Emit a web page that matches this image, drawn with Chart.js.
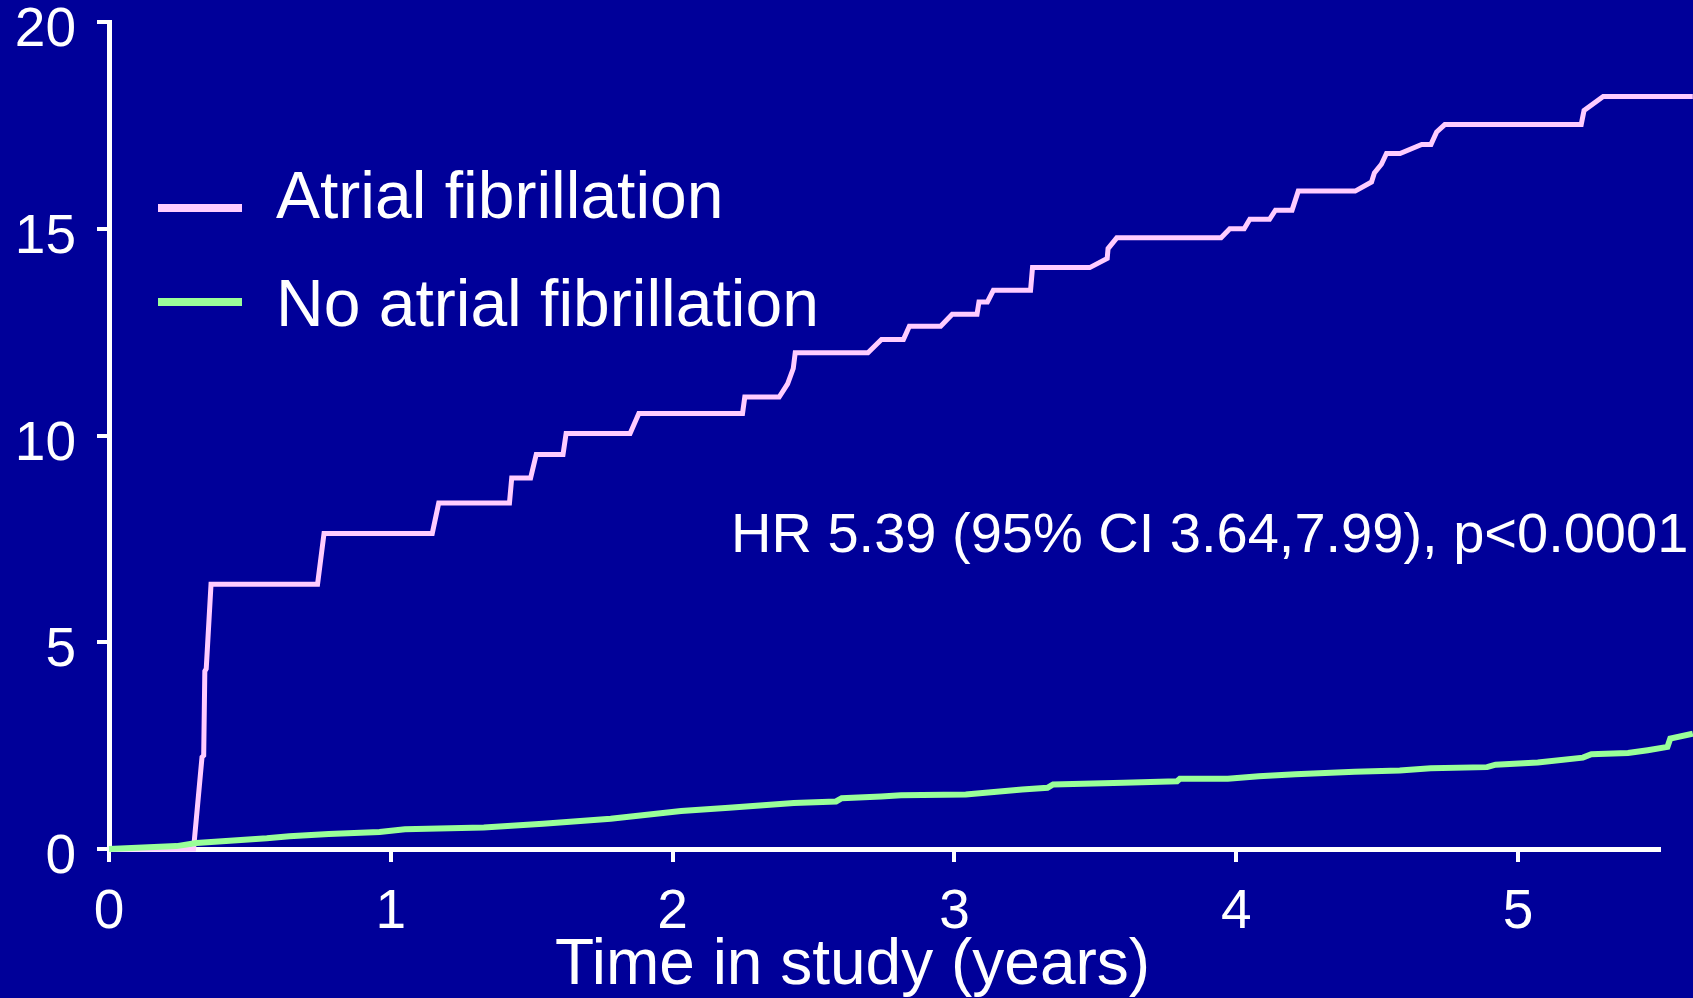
<!DOCTYPE html>
<html>
<head>
<meta charset="utf-8">
<script src="https://cdn.jsdelivr.net/npm/chart.js@4/dist/chart.umd.min.js"></script>
<style>
  html, body { margin: 0; padding: 0; background: #000099; }
  #wrap { width: 1693px; height: 998px; position: relative; }
  canvas { display: block; }
</style>
</head>
<body>
<div id="wrap"><canvas id="km" width="1693" height="998"></canvas></div>
<script>
// Cumulative incidence (%) by time in study (years), step vertices of each curve
const afTime = [0, 0.300, 0.330, 0.336, 0.340, 0.345, 0.362, 0.740, 0.763, 1.147, 1.170, 1.421, 1.429, 1.496, 1.516,
  1.611, 1.622, 1.849, 1.880, 2.248, 2.256, 2.378, 2.408, 2.428, 2.435, 2.693, 2.741, 2.819, 2.840, 2.951,
  2.992, 3.080, 3.087, 3.117, 3.138, 3.270, 3.277, 3.480, 3.542, 3.545, 3.576, 3.946, 3.977, 4.028, 4.048,
  4.118, 4.139, 4.198, 4.220, 4.422, 4.480, 4.490, 4.515, 4.533, 4.581, 4.658, 4.691, 4.711, 4.740, 5.224,
  5.234, 5.302, 5.620];
const afValue = [0, 0, 2.22, 2.26, 4.30, 4.36, 6.40, 6.40, 7.63, 7.63, 8.37, 8.37, 8.97, 8.97, 9.54,
  9.54, 10.05, 10.05, 10.53, 10.53, 10.93, 10.93, 11.25, 11.62, 12.00, 12.00, 12.32, 12.32, 12.64, 12.64,
  12.93, 12.93, 13.23, 13.23, 13.51, 13.51, 14.06, 14.06, 14.28, 14.52, 14.78, 14.78, 15.00, 15.00, 15.23,
  15.23, 15.45, 15.45, 15.91, 15.91, 16.13, 16.35, 16.56, 16.82, 16.82, 17.04, 17.04, 17.34, 17.52, 17.52,
  17.86, 18.20, 18.20];

const noAfTime = [0, 0.24, 0.31, 0.56, 0.64, 0.78, 0.96, 1.05, 1.33, 1.54, 1.78, 2.03, 2.20, 2.43, 2.58,
  2.60, 2.74, 2.81, 3.04, 3.24, 3.33, 3.35, 3.60, 3.79, 3.80, 3.97, 4.08, 4.21, 4.42, 4.58, 4.69, 4.89,
  4.92, 5.07, 5.23, 5.26, 5.39, 5.46, 5.53, 5.54, 5.62];
const noAfValue = [0, 0.07, 0.145, 0.26, 0.31, 0.36, 0.41, 0.48, 0.52, 0.61, 0.73, 0.92, 1.00, 1.11, 1.15,
  1.23, 1.27, 1.30, 1.32, 1.44, 1.48, 1.56, 1.60, 1.64, 1.70, 1.70, 1.76, 1.81, 1.87, 1.90, 1.95, 1.98,
  2.04, 2.09, 2.21, 2.29, 2.32, 2.39, 2.47, 2.67, 2.79];

const seriesNames = ['Atrial fibrillation', 'No atrial fibrillation'];
const seriesColors = ['#FFCCFF', '#99FF99'];
const yTicks = [0, 5, 10, 15, 20];
const xTicks = [0, 1, 2, 3, 4, 5];
const xRange = [0, 5.5];
const yRange = [0, 20];
const xTitle = 'Time in study (years)';
const statText = 'HR 5.39 (95% CI 3.64,7.99), p<0.0001';

const FONT = '"Liberation Sans", Arial, Helvetica, sans-serif';

function toPoints(xs, ys) {
  return xs.map((x, i) => ({ x: x, y: ys[i] }));
}

// Legend, statistics and axis title drawn as canvas text
const annotations = {
  id: 'annotations',
  afterDraw(chart) {
    const ctx = chart.ctx;
    ctx.save();
    ctx.textBaseline = 'alphabetic';
    ctx.textAlign = 'left';

    // legend
    const rows = [208, 302];
    const baselines = [217.7, 325.7];
    seriesNames.forEach((name, i) => {
      ctx.fillStyle = seriesColors[i];
      ctx.fillRect(158, rows[i] - 4, 84, 8);
      ctx.fillStyle = '#FFFFFF';
      ctx.font = '66px ' + FONT;
      ctx.fillText(name, 276, baselines[i]);
    });

    // hazard ratio
    ctx.fillStyle = '#FFFFFF';
    ctx.font = '56px ' + FONT;
    ctx.fillText(statText, 731, 551.5);

    // x axis title
    ctx.font = '64px ' + FONT;
    ctx.fillText(xTitle, 555, 984);
    ctx.restore();
  }
};

new Chart(document.getElementById('km'), {
  type: 'line',
  data: {
    datasets: [
      {
        label: seriesNames[0],
        data: toPoints(afTime, afValue),
        borderColor: seriesColors[0],
        borderWidth: 5,
        pointRadius: 0,
        tension: 0,
        clip: false,
        order: 2
      },
      {
        label: seriesNames[1],
        data: toPoints(noAfTime, noAfValue),
        borderColor: seriesColors[1],
        borderWidth: 6,
        pointRadius: 0,
        tension: 0,
        clip: false,
        order: 1
      }
    ]
  },
  options: {
    responsive: false,
    animation: false,
    devicePixelRatio: 1,
    layout: { padding: { top: 22, right: 34, left: 0, bottom: 0 } },
    plugins: {
      legend: { display: false },
      tooltip: { enabled: false }
    },
    scales: {
      x: {
        type: 'linear',
        bounds: 'data',
        // range set after the data limits so follow-up past the axis end is still drawn
        afterBuildTicks(scale) {
          scale.min = xRange[0];
          scale.max = xRange[1];
          scale.ticks = xTicks.map(v => ({ value: v }));
        },
        afterFit(scale) {
          scale.height = 149;
          scale.paddingLeft = 0;
          scale.paddingRight = 0;
        },
        ticks: {
          color: '#FFFFFF',
          font: { family: FONT, size: 55 },
          padding: 18,
          maxRotation: 0,
          autoSkip: false
        },
        grid: {
          drawOnChartArea: false,
          drawTicks: true,
          tickLength: 13,
          color: '#FFFFFF',
          lineWidth: 4
        },
        border: { display: true, color: '#FFFFFF', width: 5 }
      },
      y: {
        type: 'linear',
        min: yRange[0],
        max: yRange[1],
        afterBuildTicks(scale) { scale.ticks = yTicks.map(v => ({ value: v })); },
        afterFit(scale) {
          scale.width = 109;
          scale.paddingTop = 0;
          scale.paddingBottom = 0;
        },
        ticks: {
          color: '#FFFFFF',
          font: { family: FONT, size: 55 },
          padding: 21,
          labelOffset: 9,
          autoSkip: false
        },
        grid: {
          drawOnChartArea: false,
          drawTicks: true,
          tickLength: 12,
          color: '#FFFFFF',
          lineWidth: 4
        },
        border: { display: true, color: '#FFFFFF', width: 5 }
      }
    }
  },
  plugins: [annotations]
});
</script>
</body>
</html>
